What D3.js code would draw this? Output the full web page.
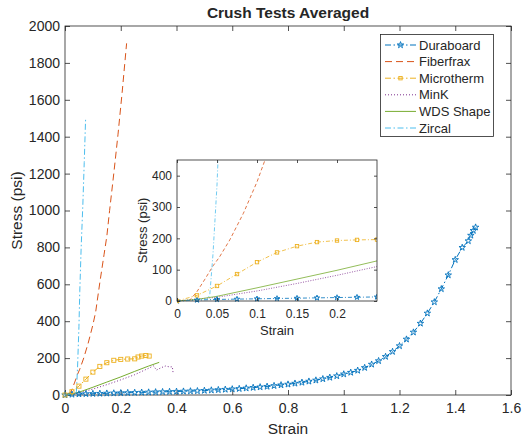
<!DOCTYPE html>
<html>
<head>
<meta charset="utf-8">
<script src="https://cdn.jsdelivr.net/npm/d3@7"></script>
<style>
html,body{margin:0;padding:0;background:#fff;}
svg{display:block;}
text{font-family:"Liberation Sans",Arial,Helvetica,sans-serif;fill:#262626;}
</style>
</head>
<body>
<svg id="chart" width="529" height="441"></svg>
<script>
// ---------------- DATA ----------------
const seriesNames = ["Duraboard","Fiberfrax","Microtherm","MinK","WDS Shape","Zircal"];

const duraboardStrain = [0,0.025,0.05,0.075,0.1,0.125,0.15,0.175,0.2,0.225,0.25,0.275,0.3,0.325,0.35,0.375,0.4,0.425,0.45,0.475,0.5,0.525,0.55,0.575,0.6,0.625,0.65,0.675,0.7,0.725,0.75,0.775,0.8,0.825,0.85,0.875,0.9,0.925,0.95,0.975,1.0,1.025,1.05,1.075,1.1,1.125,1.15,1.175,1.2,1.225,1.25,1.275,1.3,1.325,1.35,1.375,1.4,1.425,1.447,1.456,1.465,1.473];
const duraboardStress = [0,3,5,6,7,8,9,10,11,12,13,14,15,16,17,18,19,20,21,22,24,26,28,30,32,34,37,40,43,46,50,54,58,63,68,74,80,87,95,103,113,122,133,148,166,185,208,235,266,302,340,388,443,504,575,650,733,799,835,865,891,909];

const fiberfraxStrain = [0.015,0.025,0.035,0.045,0.053,0.066,0.083,0.1,0.11,0.125,0.14,0.15,0.16,0.175,0.19,0.205,0.221];
const fiberfraxStress = [0,30,70,112,140,195,280,380,450,610,760,860,1000,1200,1410,1640,1906];

const microthermStrain = [0,0.025,0.05,0.075,0.1,0.125,0.15,0.175,0.2,0.225,0.25,0.262,0.275,0.29,0.302];
const microthermStress = [0,18,48,86,124,155,175,188,193,195,196,206,211,214,211];

const minkStrain = [0,0.05,0.1,0.15,0.2,0.25,0.3,0.318,0.328,0.345,0.36,0.376,0.385,0.388];
const minkStress = [0,12,32,56,82,110,145,158,135,148,157,152,153,118];

const wdsStrain = [0,0.025,0.05,0.1,0.15,0.2,0.25,0.3,0.338];
const wdsStress = [0,5,15,42,70,98,128,157,177];

const zircalStrain = [0,0.02,0.038,0.041,0.045,0.05,0.053,0.058,0.064,0.069,0.074];
const zircalStress = [0,2,6,20,150,370,560,800,1030,1260,1500];

const mainXTicks = [0,0.2,0.4,0.6,0.8,1,1.2,1.4,1.6];
const mainXTickLabels = ["0","0.2","0.4","0.6","0.8","1","1.2","1.4","1.6"];
const mainYTicks = [0,200,400,600,800,1000,1200,1400,1600,1800,2000];
const mainYTickLabels = ["0","200","400","600","800","1000","1200","1400","1600","1800","2000"];
const insetXTicks = [0,0.05,0.1,0.15,0.2];
const insetXTickLabels = ["0","0.05","0.1","0.15","0.2"];
const insetYTicks = [0,100,200,300,400];
const insetYTickLabels = ["0","100","200","300","400"];

// ---------------- STYLE ----------------
const colors = {
  "Duraboard":"#0072BD","Fiberfrax":"#D95319","Microtherm":"#EDB120",
  "MinK":"#7E2F8E","WDS Shape":"#77AC30","Zircal":"#4DBEEE"
};
const dashMain = {
  "Duraboard":"6,2.5,1.5,2.5","Fiberfrax":"7,4","Microtherm":"6,2.5,1.5,2.5",
  "MinK":"1,2","WDS Shape":null,"Zircal":"6,2.5,1.5,2.5"
};
const dashInset = {
  "Duraboard":"4,2,1,2","Fiberfrax":"3.5,2.5","Microtherm":"4,2,1,2",
  "MinK":"1,1.5","WDS Shape":null,"Zircal":"4,2,1,2"
};
const markerType = {"Duraboard":"star","Microtherm":"square"};

const series = [
  {name:"Duraboard", x:duraboardStrain, y:duraboardStress},
  {name:"Fiberfrax", x:fiberfraxStrain, y:fiberfraxStress},
  {name:"Microtherm", x:microthermStrain, y:microthermStress},
  {name:"MinK", x:minkStrain, y:minkStress},
  {name:"WDS Shape", x:wdsStrain, y:wdsStress},
  {name:"Zircal", x:zircalStrain, y:zircalStress}
].map(s => ({name:s.name, pts:s.x.map((v,i)=>[v,s.y[i]])}));

const axisColor = "#262626";
const svg = d3.select("#chart");

function starPath(R){
  const r = R*0.382; let p = [];
  for(let i=0;i<10;i++){
    const rad = (i%2===0)?R:r;
    const a = -Math.PI/2 + i*Math.PI/5;
    p.push([rad*Math.cos(a), rad*Math.sin(a)]);
  }
  return "M"+p.map(d=>d[0].toFixed(2)+","+d[1].toFixed(2)).join("L")+"Z";
}
function drawMarker(g, type, cx, cy, color, size, sw){
  if(type==="star"){
    g.append("path").attr("d", starPath(size)).attr("transform",`translate(${cx},${cy})`)
      .attr("fill","none").attr("stroke",color).attr("stroke-width",sw);
  } else if(type==="square"){
    const s = size*0.6;
    g.append("rect").attr("x",cx-s).attr("y",cy-s).attr("width",2*s).attr("height",2*s)
      .attr("fill","none").attr("stroke",color).attr("stroke-width",sw);
  }
}

function drawAxes(opts){
  const {x,y,L,R,T,B,xt,xtl,yt,ytl,tick,fs,xpad,ypad} = opts;
  const g = svg.append("g");
  const ax = d3.axisBottom(x).tickValues(xt).tickFormat((d,i)=>xtl[i]).tickSizeInner(-tick).tickSizeOuter(0).tickPadding(xpad);
  const gb = g.append("g").attr("transform",`translate(0,${B})`).call(ax);
  const gt = g.append("g").attr("transform",`translate(0,${T})`).call(d3.axisTop(x).tickValues(xt).tickFormat("").tickSizeInner(-tick).tickSizeOuter(0));
  const ay = d3.axisLeft(y).tickValues(yt).tickFormat((d,i)=>ytl[i]).tickSizeInner(-tick).tickSizeOuter(0).tickPadding(ypad);
  const gl = g.append("g").attr("transform",`translate(${L},0)`).call(ay);
  const gr = g.append("g").attr("transform",`translate(${R},0)`).call(d3.axisRight(y).tickValues(yt).tickFormat("").tickSizeInner(-tick).tickSizeOuter(0));
  [gb,gt,gl,gr].forEach(a=>{
    a.select(".domain").remove();
    a.selectAll("line").attr("stroke",axisColor).attr("stroke-width",0.8);
    a.selectAll("text").attr("font-size",fs).attr("font-family",'"Liberation Sans",Arial,sans-serif').attr("fill",axisColor);
  });
  g.append("rect").attr("x",L).attr("y",T).attr("width",R-L).attr("height",B-T)
    .attr("fill","none").attr("stroke",axisColor).attr("stroke-width",0.8);
  return g;
}

function drawSeries(g, x, y, dashes, lw, msize, clipId){
  const line = d3.line().x(d=>x(d[0])).y(d=>y(d[1]));
  const cg = g.append("g").attr("clip-path",`url(#${clipId})`);
  series.forEach(s=>{
    cg.append("path").attr("d",line(s.pts)).attr("fill","none")
      .attr("stroke",colors[s.name]).attr("stroke-width",lw)
      .attr("stroke-dasharray",dashes[s.name]);
  });
  series.forEach(s=>{
    const t = markerType[s.name];
    if(!t) return;
    s.pts.forEach(p=>drawMarker(cg,t,x(p[0]),y(p[1]),colors[s.name],msize,0.9));
  });
}

const defs = svg.append("defs");

// ---------------- MAIN AXES ----------------
const M = {L:65,R:511,T:26,B:395};
const xMain = d3.scaleLinear().domain([0,1.6]).range([M.L,M.R]);
const yMain = d3.scaleLinear().domain([0,2000]).range([M.B,M.T]);
defs.append("clipPath").attr("id","clipMain").append("rect")
  .attr("x",M.L-4).attr("y",M.T).attr("width",M.R-M.L+8).attr("height",M.B-M.T+4);

drawAxes({x:xMain,y:yMain,...M,xt:mainXTicks,xtl:mainXTickLabels,yt:mainYTicks,ytl:mainYTickLabels,tick:5,fs:14,xpad:8,ypad:5});
drawSeries(svg.append("g"), xMain, yMain, dashMain, 1, 3.4, "clipMain");

svg.append("text").attr("x",(M.L+M.R)/2).attr("y",18).attr("text-anchor","middle")
  .attr("font-size",15.5).attr("font-weight","bold").text("Crush Tests Averaged");
svg.append("text").attr("x",(M.L+M.R)/2).attr("y",434).attr("text-anchor","middle")
  .attr("font-size",15.5).text("Strain");
svg.append("text").attr("transform",`translate(22,${(M.T+M.B)/2}) rotate(-90)`).attr("text-anchor","middle")
  .attr("font-size",15.5).text("Stress (psi)");

// ---------------- INSET ----------------
const I = {L:177,R:377,T:160,B:301};
const xIn = d3.scaleLinear().domain([0,0.25]).range([I.L,I.R]);
const yIn = d3.scaleLinear().domain([0,450]).range([I.B,I.T]);
svg.append("rect").attr("x",I.L).attr("y",I.T).attr("width",I.R-I.L).attr("height",I.B-I.T).attr("fill","#fff");
defs.append("clipPath").attr("id","clipInset").append("rect")
  .attr("x",I.L).attr("y",I.T).attr("width",I.R-I.L).attr("height",I.B-I.T+3);
drawSeries(svg.append("g"), xIn, yIn, dashInset, 0.8, 2.8, "clipInset");
drawAxes({x:xIn,y:yIn,...I,xt:insetXTicks,xtl:insetXTickLabels,yt:insetYTicks,ytl:insetYTickLabels,tick:3,fs:12,xpad:8,ypad:5});
svg.append("text").attr("x",(I.L+I.R)/2).attr("y",335).attr("text-anchor","middle")
  .attr("font-size",13).text("Strain");
svg.append("text").attr("transform",`translate(147,${(I.T+I.B)/2}) rotate(-90)`).attr("text-anchor","middle")
  .attr("font-size",13).text("Stress (psi)");

// ---------------- LEGEND ----------------
const lg = svg.append("g");
lg.append("rect").attr("x",380.5).attr("y",34.5).attr("width",113).attr("height",102)
  .attr("fill","#fff").attr("stroke",axisColor).attr("stroke-width",0.8);
seriesNames.forEach((n,i)=>{
  const yy = 45 + i*16.6;
  lg.append("line").attr("x1",385).attr("x2",416).attr("y1",yy).attr("y2",yy)
    .attr("stroke",colors[n]).attr("stroke-width",1).attr("stroke-dasharray",dashMain[n]);
  if(markerType[n]) drawMarker(lg, markerType[n], 400.5, yy, colors[n], markerType[n]==="star"?3.4:2.8, 0.9);
  lg.append("text").attr("x",419).attr("y",yy+4.6).attr("font-size",13).text(n);
});
</script>
</body>
</html>
